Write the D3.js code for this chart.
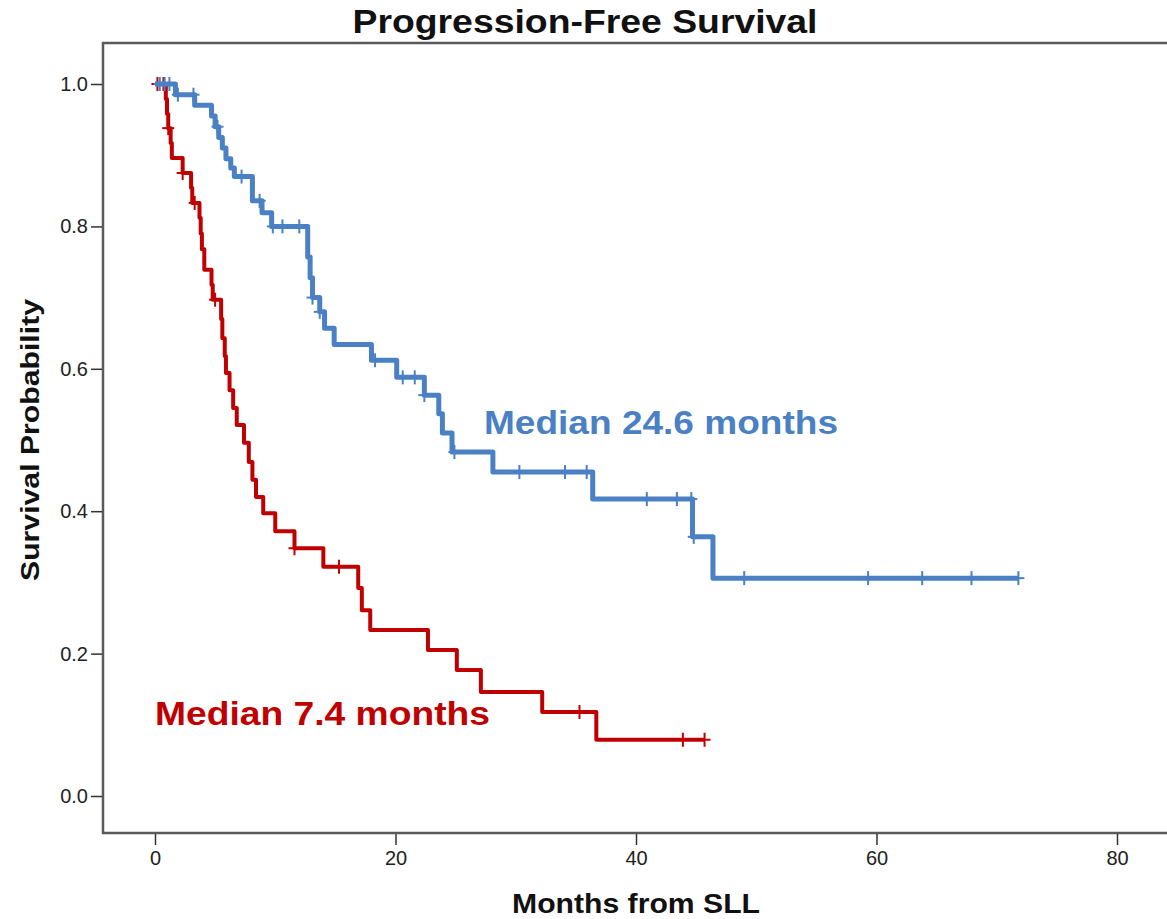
<!DOCTYPE html>
<html>
<head>
<meta charset="utf-8">
<script src="https://cdn.jsdelivr.net/npm/d3@7"></script>
<style>
  html, body { margin: 0; padding: 0; background: #fff; }
  svg { display: block; }
  text { font-family: "Liberation Sans", Arial, sans-serif; }
</style>
</head>
<body>
<svg id="chart" width="1167" height="919"></svg>
<script>
// Kaplan-Meier progression-free survival, two groups.
const title = "Progression-Free Survival";
const xLabel = "Months from SLL";
const yLabel = "Survival Probability";
const xTicks = [0, 20, 40, 60, 80];
const yTicks = [0.0, 0.2, 0.4, 0.6, 0.8, 1.0];

// Blue group: event times (months) and survival after each event
const blueTimes = [1.7, 3.3, 4.7, 5.0, 5.3, 5.6, 5.9, 6.3, 6.6, 8.1, 8.9, 9.7,
  12.7, 12.9, 13.1, 13.7, 14.1, 14.9, 18.0, 20.1, 22.4, 23.6, 23.9, 24.7,
  28.1, 36.4, 44.7, 46.4];
const blueSurv = [0.985, 0.970, 0.955, 0.940, 0.925, 0.910, 0.895, 0.882, 0.870,
  0.836, 0.819, 0.800, 0.757, 0.728, 0.700, 0.680, 0.657, 0.634, 0.612, 0.588,
  0.563, 0.537, 0.510, 0.483, 0.455, 0.417, 0.364, 0.306];
const blueCensored = [0.4, 0.8, 1.2, 1.9, 3.2, 5.2, 7.2, 8.7, 9.8, 10.6, 12.0,
  13.1, 13.7, 18.3, 20.6, 21.6, 22.4, 24.9, 30.3, 34.1, 35.9, 40.9, 43.4,
  44.6, 44.8, 49.0, 59.3, 63.8, 67.9, 71.8];
const blueEnd = 71.8;

// Red group
const redTimes = [0.9, 1.0, 1.1, 1.3, 1.4, 2.3, 3.0, 3.1, 3.7, 3.8, 3.9, 4.1,
  4.7, 4.8, 5.5, 5.6, 5.8, 5.9, 6.2, 6.5, 6.8, 7.4, 7.8, 8.1, 8.4, 9.0, 10.0,
  11.6, 14.0, 16.9, 17.2, 17.9, 22.7, 25.1, 27.1, 32.2, 36.7];
const redSurv = [0.979, 0.958, 0.938, 0.917, 0.896, 0.875, 0.854, 0.833, 0.812,
  0.790, 0.768, 0.739, 0.718, 0.697, 0.670, 0.643, 0.618, 0.594, 0.570, 0.545,
  0.521, 0.496, 0.469, 0.444, 0.420, 0.397, 0.372, 0.348, 0.322, 0.292, 0.261,
  0.233, 0.205, 0.177, 0.146, 0.118, 0.079];
const redCensored = [0.2, 0.7, 1.1, 2.3, 3.3, 5.0, 11.6, 15.3, 35.3, 43.9, 45.7];
const redEnd = 45.7;

const blueMedian = "Median 24.6 months";
const redMedian = "Median 7.4 months";

const blueColor = "#4a80c4";
const redColor = "#c00000";

const svg = d3.select("#chart");
const x = d3.scaleLinear().domain([0, 80]).range([155, 1117]);
const y = d3.scaleLinear().domain([0, 1]).range([796, 84]);

const frame = { left: 103, top: 43, bottom: 833, right: 1175 };

// plot frame
svg.append("path")
  .attr("d", `M${frame.right},${frame.top}H${frame.left}V${frame.bottom}H${frame.right}`)
  .attr("fill", "none").attr("stroke", "#5a5a5a").attr("stroke-width", 2.5);

// x axis ticks
const xAxis = d3.axisBottom(x).tickValues(xTicks).tickFormat(d3.format("d"))
  .tickSizeInner(11).tickSizeOuter(0).tickPadding(6);
const gx = svg.append("g").attr("transform", `translate(0,${frame.bottom + 1})`).call(xAxis);
gx.select(".domain").remove();
gx.selectAll(".tick line").attr("stroke", "#333").attr("stroke-width", 1.5);
gx.selectAll(".tick text").attr("font-size", 20).attr("fill", "#222");

// y axis ticks
const yAxis = d3.axisLeft(y).tickValues(yTicks).tickFormat(d3.format(".1f"))
  .tickSizeInner(11).tickSizeOuter(0).tickPadding(3);
const gy = svg.append("g").attr("transform", `translate(${frame.left - 1},0)`).call(yAxis);
gy.select(".domain").remove();
gy.selectAll(".tick line").attr("stroke", "#333").attr("stroke-width", 1.5);
gy.selectAll(".tick text").attr("font-size", 20).attr("fill", "#222");

// survival step curves
function stepPoints(times, surv, end) {
  const pts = [[0, 1]];
  times.forEach((t, i) => pts.push([t, surv[i]]));
  pts.push([end, surv[surv.length - 1]]);
  return pts;
}
function levelAt(times, surv, t) {
  let s = 1;
  times.forEach((tt, i) => { if (tt <= t) s = surv[i]; });
  return s;
}
const line = d3.line().x(d => x(d[0])).y(d => y(d[1])).curve(d3.curveStepAfter);

function drawGroup(times, surv, censored, end, color, width) {
  svg.append("path")
    .datum(stepPoints(times, surv, end))
    .attr("d", line)
    .attr("fill", "none").attr("stroke", color)
    .attr("stroke-width", width).attr("stroke-linejoin", "round");
  svg.append("g").selectAll("line")
    .data(censored)
    .join("line")
    .attr("x1", d => x(d)).attr("x2", d => x(d))
    .attr("y1", d => y(levelAt(times, surv, d)) - 7)
    .attr("y2", d => y(levelAt(times, surv, d)) + 7)
    .attr("stroke", color).attr("stroke-width", 2);
  svg.append("g").selectAll("line")
    .data(censored)
    .join("line")
    .attr("x1", d => x(d) - 6).attr("x2", d => x(d) + 6)
    .attr("y1", d => y(levelAt(times, surv, d)))
    .attr("y2", d => y(levelAt(times, surv, d)))
    .attr("stroke", color).attr("stroke-width", 2);
}
drawGroup(redTimes, redSurv, redCensored, redEnd, redColor, 4);
drawGroup(blueTimes, blueSurv, blueCensored, blueEnd, blueColor, 5);

// titles
svg.append("text").attr("x", 585).attr("y", 33).attr("text-anchor", "middle")
  .attr("font-size", 34).attr("font-weight", "bold").attr("fill", "#111")
  .attr("textLength", 465).attr("lengthAdjust", "spacingAndGlyphs")
  .text(title);
svg.append("text").attr("x", 636).attr("y", 913).attr("text-anchor", "middle")
  .attr("font-size", 27).attr("font-weight", "bold").attr("fill", "#111")
  .attr("textLength", 248).attr("lengthAdjust", "spacingAndGlyphs")
  .text(xLabel);
svg.append("text").attr("transform", "translate(39,440) rotate(-90)")
  .attr("text-anchor", "middle")
  .attr("font-size", 26).attr("font-weight", "bold").attr("fill", "#111")
  .attr("textLength", 282).attr("lengthAdjust", "spacingAndGlyphs")
  .text(yLabel);

// median annotations
svg.append("text").attr("x", 484).attr("y", 434)
  .attr("font-size", 33).attr("font-weight", "bold").attr("fill", blueColor)
  .attr("textLength", 354).attr("lengthAdjust", "spacingAndGlyphs")
  .text(blueMedian);
svg.append("text").attr("x", 155).attr("y", 725)
  .attr("font-size", 33).attr("font-weight", "bold").attr("fill", redColor)
  .attr("textLength", 335).attr("lengthAdjust", "spacingAndGlyphs")
  .text(redMedian);
</script>
</body>
</html>
